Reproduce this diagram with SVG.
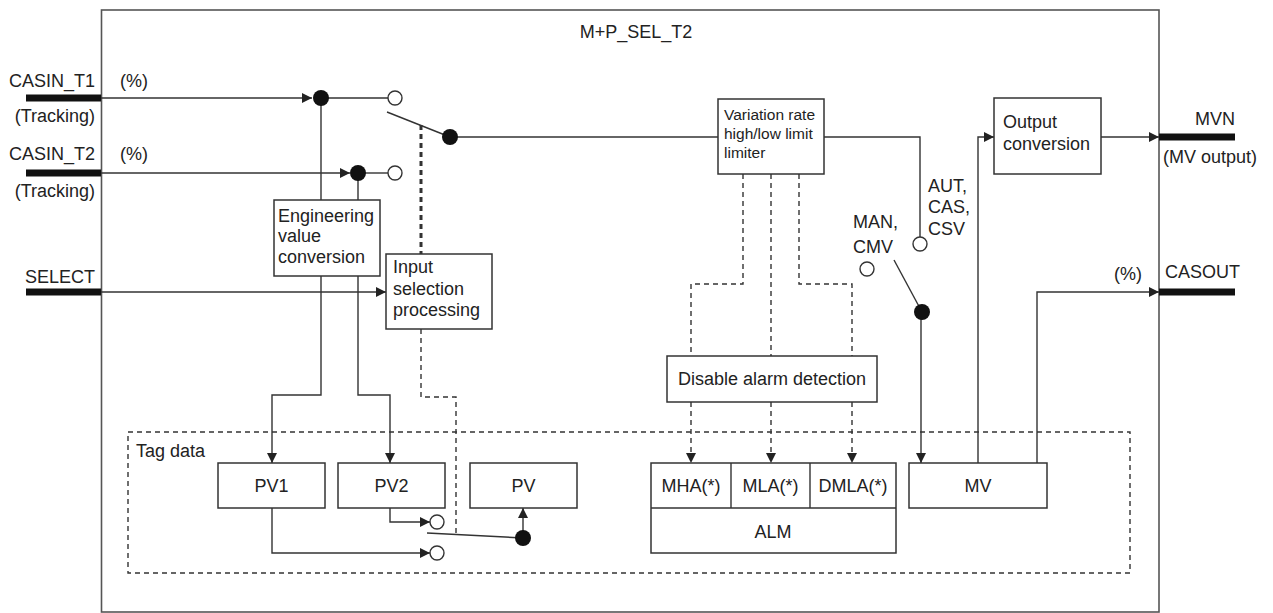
<svg xmlns="http://www.w3.org/2000/svg" width="1273" height="613" viewBox="0 0 1273 613">
<defs>
<marker id="ah" viewBox="0 0 10 10" refX="10" refY="5" markerWidth="10" markerHeight="10" markerUnits="userSpaceOnUse" orient="auto"><path d="M0,0 L10,5 L0,10 Z" fill="#222"/></marker>
</defs>
<style>
text{font-family:"Liberation Sans",Arial,sans-serif;font-size:18px;fill:#222}
.sm{font-size:15.5px}
.mid{text-anchor:middle}
.end{text-anchor:end}
.box{fill:#fff;stroke:#333;stroke-width:1.5}
.ln{fill:none;stroke:#333;stroke-width:1.4}
.dash{fill:none;stroke:#333;stroke-width:1.4;stroke-dasharray:5,4}
.bdot{fill:none;stroke:#333;stroke-width:3;stroke-dasharray:5,4}
.bar{stroke:#111;stroke-width:7}
.oc{fill:#fff;stroke:#333;stroke-width:1.4}
.fc{fill:#111}
</style>
<rect x="101.5" y="10" width="1057.5" height="602" fill="none" stroke="#555" stroke-width="1.6"/>
<text x="636" y="38" class="mid">M+P_SEL_T2</text>
<rect x="128" y="432" width="1002" height="141" class="dash"/>
<text x="136" y="457">Tag data</text>

<g id="io">
<line x1="26" y1="98" x2="101" y2="98" class="bar"/>
<text x="95" y="87" class="end">CASIN_T1</text>
<text x="95" y="122" class="end">(Tracking)</text>
<text x="120" y="87">(%)</text>
<line x1="26" y1="173" x2="101" y2="173" class="bar"/>
<text x="95" y="160" class="end">CASIN_T2</text>
<text x="95" y="197" class="end">(Tracking)</text>
<text x="120" y="160">(%)</text>
<line x1="26" y1="292" x2="101" y2="292" class="bar"/>
<text x="95" y="283" class="end">SELECT</text>
<line x1="1159" y1="137" x2="1235" y2="137" class="bar"/>
<text x="1235" y="125" class="end">MVN</text>
<text x="1163" y="163">(MV output)</text>
<line x1="1159" y1="292" x2="1235" y2="292" class="bar"/>
<text x="1165" y="278">CASOUT</text>
<text x="1142" y="280" class="end">(%)</text>
</g>

<g id="connectors">
<path d="M101,98 H312" class="ln" marker-end="url(#ah)"/>
<path d="M321,98 H388" class="ln"/>
<path d="M101,173 H350" class="ln" marker-end="url(#ah)"/>
<path d="M358,173 H388" class="ln"/>
<path d="M321,98 V200" class="ln"/>
<path d="M358,173 V200" class="ln"/>
<path d="M387,112 L450,137" class="ln"/>
<path d="M450,137 H718" class="ln"/>
<path d="M421,125 V254" class="bdot"/>
<path d="M101,292 H386" class="ln" marker-end="url(#ah)"/>
<path d="M321,276 V395 H272 V463" class="ln" marker-end="url(#ah)"/>
<path d="M358,276 V395 H390 V463" class="ln" marker-end="url(#ah)"/>
<path d="M421,329 V397 H456 V533" class="dash"/>
<path d="M390,508 V522 H430" class="ln" marker-end="url(#ah)"/>
<path d="M272,508 V553 H430" class="ln" marker-end="url(#ah)"/>
<path d="M427,533 L523,538" class="ln"/>
<path d="M523,538 V508" class="ln" marker-end="url(#ah)"/>
<path d="M824,137 H920 V237" class="ln"/>
<path d="M894,260 L922,312" class="ln"/>
<path d="M921,312 V463" class="ln" marker-end="url(#ah)"/>
<path d="M978,463 V137 H994" class="ln" marker-end="url(#ah)"/>
<path d="M1101,137 H1159" class="ln" marker-end="url(#ah)"/>
<path d="M1037,463 V292 H1159" class="ln" marker-end="url(#ah)"/>
<path d="M743,174 V284 H691 V356" class="dash"/>
<path d="M771,174 V356" class="dash"/>
<path d="M799,174 V284 H852 V356" class="dash"/>
<path d="M691,402 V463" class="dash" marker-end="url(#ah)"/>
<path d="M771,402 V463" class="dash" marker-end="url(#ah)"/>
<path d="M852,402 V463" class="dash" marker-end="url(#ah)"/>
</g>

<g id="switches">
<circle cx="321" cy="98" r="8" class="fc"/>
<circle cx="395" cy="98" r="7" class="oc"/>
<circle cx="358" cy="173" r="8" class="fc"/>
<circle cx="395" cy="173" r="7" class="oc"/>
<circle cx="450" cy="137" r="8" class="fc"/>
<circle cx="920" cy="244" r="7" class="oc"/>
<circle cx="867" cy="269" r="7" class="oc"/>
<circle cx="922" cy="312" r="8" class="fc"/>
<circle cx="437" cy="522" r="7" class="oc"/>
<circle cx="437" cy="553" r="7" class="oc"/>
<circle cx="523" cy="538" r="8" class="fc"/>
<text x="928" y="192">AUT,</text>
<text x="928" y="213">CAS,</text>
<text x="928" y="235">CSV</text>
<text x="853" y="228">MAN,</text>
<text x="853" y="253">CMV</text>
</g>

<g id="eng">
<rect x="274" y="200" width="106" height="76" class="box"/>
<text x="278" y="222">Engineering</text>
<text x="278" y="242">value</text>
<text x="278" y="263">conversion</text>
</g>
<g id="inputsel">
<rect x="386" y="254" width="106" height="75" class="box"/>
<text x="393" y="273">Input</text>
<text x="393" y="295">selection</text>
<text x="393" y="316">processing</text>
</g>
<g id="limiter">
<rect x="718" y="99" width="106" height="75" class="box"/>
<text x="724" y="120" class="sm">Variation rate</text>
<text x="724" y="139" class="sm">high/low limit</text>
<text x="724" y="158" class="sm">limiter</text>
</g>
<g id="outconv">
<rect x="994" y="98" width="107" height="76" class="box"/>
<text x="1003" y="128">Output</text>
<text x="1003" y="150">conversion</text>
</g>
<g id="disable">
<rect x="667" y="356" width="210" height="46" class="box"/>
<text x="772" y="385" class="mid">Disable alarm detection</text>
</g>
<g id="pv1">
<rect x="218" y="463" width="107" height="45" class="box"/>
<text x="271.5" y="492" class="mid">PV1</text>
</g>
<g id="pv2">
<rect x="338" y="463" width="107" height="45" class="box"/>
<text x="391.5" y="492" class="mid">PV2</text>
</g>
<g id="pv">
<rect x="470" y="463" width="107" height="45" class="box"/>
<text x="523.5" y="492" class="mid">PV</text>
</g>
<g id="alm">
<rect x="651" y="463" width="245" height="90" class="box"/>
<line x1="651" y1="508" x2="896" y2="508" class="ln"/>
<line x1="731" y1="463" x2="731" y2="508" class="ln"/>
<line x1="810" y1="463" x2="810" y2="508" class="ln"/>
<text x="691" y="492" class="mid">MHA(*)</text>
<text x="770.5" y="492" class="mid">MLA(*)</text>
<text x="853" y="492" class="mid">DMLA(*)</text>
<text x="773" y="538" class="mid">ALM</text>
</g>
<g id="mv">
<rect x="909" y="463" width="138" height="45" class="box"/>
<text x="978" y="492" class="mid">MV</text>
</g>
</svg>
